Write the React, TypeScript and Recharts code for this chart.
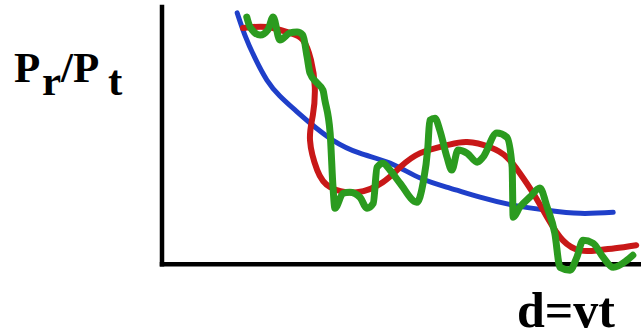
import { LineChart, Line, XAxis, YAxis, ReferenceLine } from "recharts";

// distance (0..100) vs received power ratio (-10..100)
const BLUE_X = [15.7, 17.3, 19.4, 21.9, 24.6, 27.8, 30.9, 35.7, 41.3, 47.6, 53.9, 60.1, 66.4, 73.3, 80.4, 87.3, 94.2];
const BLUE_Y = [97.7, 89.1, 80.2, 71.6, 65.4, 59.9, 54.9, 48.2, 43.2, 39.3, 33.5, 29.6, 26.1, 23.0, 21.0, 19.8, 20.2];

const RED_X = [16.9, 21.9, 26.7, 29.4, 31.1, 31.9, 31.5, 30.9, 32.4, 35.1, 40.7, 46.1, 49.7, 53.9, 59.5, 63.7, 68.5, 72.0, 74.7, 77.5, 80.4, 83.7, 87.3, 90.8, 94.6, 99.0];
const RED_Y = [91.8, 92.2, 89.9, 87.2, 79.4, 68.9, 58.0, 48.2, 36.6, 30.0, 28.0, 31.9, 37.7, 43.2, 46.3, 47.5, 45.5, 41.6, 35.4, 27.6, 18.3, 9.3, 5.4, 5.4, 6.2, 7.4];

const GREEN_X = [17.7, 18.4, 20.5, 22.1, 23.2, 24.6, 26.7, 28.2, 29.4, 30.3, 30.9, 32.4, 33.6, 34.0, 35.1, 35.7, 36.1, 37.8, 39.2, 41.3, 42.8, 44.1, 44.9, 46.1, 47.6, 49.7, 53.2, 54.5, 55.5, 55.9, 57.0, 58.0, 59.5, 60.5, 61.8, 63.7, 65.8, 67.0, 69.9, 72.0, 73.1, 73.3, 74.7, 76.8, 78.9, 80.4, 82.0, 83.1, 85.2, 86.6, 87.9, 90.0, 92.1, 94.2, 97.1, 98.3];
const GREEN_Y = [96.1, 92.2, 89.1, 91.1, 96.1, 87.2, 89.9, 90.3, 89.1, 80.5, 74.3, 70.4, 67.7, 63.8, 51.0, 30.0, 21.8, 27.6, 28.0, 26.1, 21.8, 23.7, 37.7, 39.3, 36.6, 31.5, 24.1, 31.5, 45.5, 56.0, 56.8, 52.1, 41.6, 36.6, 44.4, 43.2, 39.7, 41.6, 51.0, 49.4, 37.7, 18.3, 22.2, 26.1, 29.6, 22.2, 12.1, -1.2, -2.3, 2.7, 9.3, 8.2, 2.7, -1.2, 1.6, 3.5];

const toPoints = (xs: number[], ys: number[]) => xs.map((x, i) => ({ x, y: ys[i] }));

const blueData = toPoints(BLUE_X, BLUE_Y);
const redData = toPoints(RED_X, RED_Y);
const greenData = toPoints(GREEN_X, GREEN_Y);

const labelFont = "'Liberation Serif', 'Times New Roman', serif";

export default function App() {
  return (
    <div style={{ position: "absolute", left: 0, top: 0, width: 641, height: 336, background: "#fff" }}>
      <LineChart width={641} height={336} margin={{ top: 7, right: 0, bottom: 46, left: 162 }}>
        <XAxis type="number" dataKey="x" domain={[0, 100]} hide />
        <YAxis type="number" dataKey="y" domain={[-10, 100]} hide />
        <ReferenceLine segment={[{ x: 0, y: 0 }, { x: 0, y: 100 }]} stroke="#000" strokeWidth={4.5} strokeLinecap="square" />
        <ReferenceLine segment={[{ x: 0, y: 0 }, { x: 100, y: 0 }]} stroke="#000" strokeWidth={4.5} strokeLinecap="square" />
        <Line data={blueData} dataKey="y" type="natural" stroke="#1f3fc9" strokeWidth={5} dot={false} isAnimationActive={false} strokeLinecap="round" />
        <Line data={redData} dataKey="y" type="natural" stroke="#c81818" strokeWidth={6} dot={false} isAnimationActive={false} strokeLinecap="round" />
        <Line data={greenData} dataKey="y" type="monotone" stroke="#2b9b1f" strokeWidth={7} dot={false} isAnimationActive={false} strokeLinecap="round" strokeLinejoin="round" />
      </LineChart>
      <svg width={641} height={336} style={{ position: "absolute", left: 0, top: 0, pointerEvents: "none" }}>
        <text y={82} fontSize={43} fontWeight="bold" fontFamily={labelFont} fill="#000">
          <tspan x={14}>P</tspan>
          <tspan x={42} dy={13}>r</tspan>
          <tspan x={61} dy={-13}>/</tspan>
          <tspan x={73}>P</tspan>
          <tspan x={108} dy={13}>t</tspan>
        </text>
        <text x={517} y={327} fontSize={50} fontWeight="bold" fontFamily={labelFont} fill="#000">d=vt</text>
      </svg>
    </div>
  );
}
